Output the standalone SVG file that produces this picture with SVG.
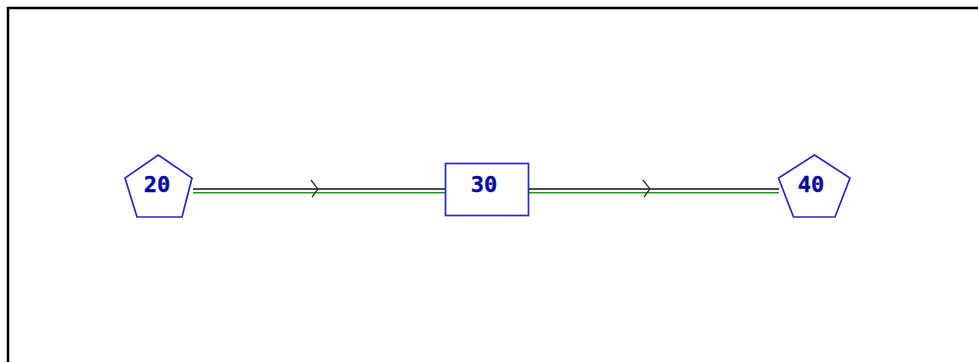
<svg xmlns="http://www.w3.org/2000/svg" width="978" height="362" viewBox="0 0 978 362">
  <defs>
    <style>
      .frame { fill: none; stroke: #000; stroke-width: 2.5; }
      .shape { fill: #fff; stroke: #2828c0; stroke-width: 1.7; }
      .label { font-family: "DejaVu Sans Mono", "Liberation Mono", monospace; font-weight: bold; font-size: 22px; fill: #0808a0; stroke: #0808a0; stroke-width: 0.4; text-anchor: middle; }
      .wire { stroke: #111; stroke-width: 1.6; fill: none; }
      .wire-g { stroke: #12a012; stroke-width: 1.6; fill: none; }
      .head { stroke: #333; stroke-width: 1.3; fill: none; }
    </style>
  </defs>
  <rect width="978" height="362" fill="#fff"/>
  <!-- outer frame, right and bottom edges run off the canvas -->
  <polyline class="frame" points="8,364 8,8 980,8"/>

  <g id="connectors">
    <g id="e20-30">
      <line class="wire" x1="193" y1="189" x2="445" y2="189"/>
      <line class="wire-g" x1="193" y1="192.8" x2="445" y2="192.8"/>
      <polyline class="head" points="311,180 318,189 312,197"/>
    </g>
    <g id="e30-40">
      <line class="wire" x1="528" y1="189" x2="779" y2="189"/>
      <line class="wire-g" x1="528" y1="192.8" x2="779" y2="192.8"/>
      <polyline class="head" points="643,180 650,189 644,197"/>
    </g>
  </g>

  <g id="n20">
    <polygon class="shape" points="158.3,155 192,178 182,217 137,217 125,178"/>
    <text class="label" x="157" y="191.5">20</text>
  </g>
  <g id="n30">
    <rect class="shape" x="445.5" y="163.5" width="83" height="52"/>
    <text class="label" x="484" y="191.5">30</text>
  </g>
  <g id="n40">
    <polygon class="shape" points="814.5,155 850,178 835,217 793.5,217 778.5,178"/>
    <text class="label" x="811" y="191.5">40</text>
  </g>
</svg>
